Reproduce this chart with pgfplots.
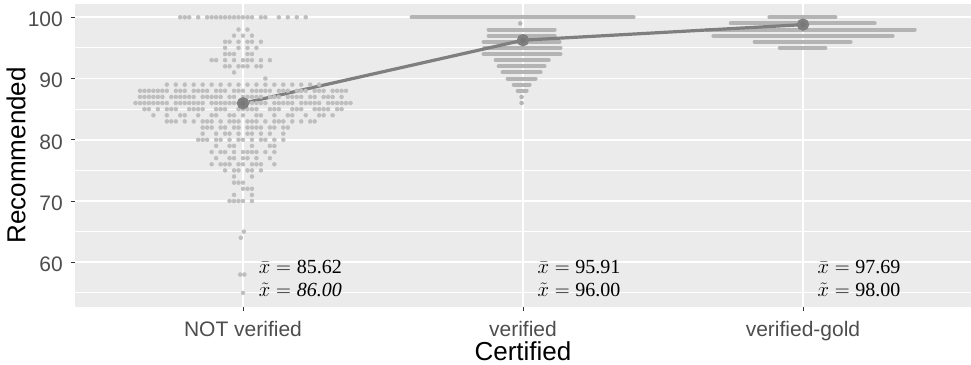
\documentclass[border=0pt]{standalone}
\usepackage{pgfplots}
\pgfplotsset{compat=1.18}
\usepackage{fontspec}
\setmainfont{Liberation Sans}
\newfontfamily\serif{Liberation Serif}
\definecolor{bgc}{HTML}{EBEBEB}
\definecolor{dotc}{HTML}{BEBEBE}
\definecolor{barc}{HTML}{B4B4B4}
\definecolor{linec}{HTML}{7F7F7F}
\definecolor{meanc}{HTML}{777777}
\definecolor{labc}{HTML}{4D4D4D}
\definecolor{tickc}{HTML}{333333}
\begin{document}
\begin{tikzpicture}
\begin{axis}[
  scale only axis, width=896bp, height=302.5bp,
  xmin=0.4, xmax=3.6, ymin=52.78, ymax=102.17,
  axis background/.style={fill=bgc},
  axis line style={draw=none},
  tick pos=left,
  xtick={1,2,3}, xticklabels={NOT verified,verified,verified-gold},
  ytick={60,70,80,90,100}, yticklabels={60,70,80,90,100},
  minor ytick={55,65,75,85,95},
  xmajorgrids, ymajorgrids, yminorgrids,
  major grid style={white, line width=1.8bp},
  minor grid style={white, line width=0.9bp},
  tick align=outside, major tick length=4bp, minor tick length=0bp,
  tick style={color=tickc, line width=1bp},
  ticklabel style={font=\fontsize{21bp}{25bp}\selectfont, text=labc, inner sep=0pt},
  xticklabel style={anchor=base, yshift=-26bp},
  yticklabel style={anchor=east, xshift=-8bp, yshift=-2bp},
  xlabel={Certified}, ylabel={Recommended},
  label style={font=\fontsize{26bp}{30bp}\selectfont, text=black},
  xlabel style={at={(axis description cs:0.5,-0.1769)}, anchor=base},
  ylabel style={at={(axis description cs:-0.0658,0.5)}, anchor=center},
  clip=false,
]
% NOT verified dots
\addplot[only marks, mark=*, mark size=2bp, color=dotc] coordinates {
(0.776,100)(0.792,100)(0.808,100)(0.840,100)(0.872,100)(0.888,100)(0.904,100)(0.920,100)(0.936,100)(0.952,100)(0.968,100)(0.984,100)(1.000,100)(1.016,100)(1.032,100)(1.064,100)(1.080,100)(1.128,100)(1.160,100)(1.192,100)(1.224,100)
(0.984,98)(1.016,98)
(0.968,97)(1.000,97)(1.032,97)
(0.936,96)(0.952,96)(0.984,96)(1.016,96)(1.032,96)(1.064,96)
(0.936,95)(0.984,95)(1.016,95)(1.048,95)
(0.936,94)(0.952,94)(0.968,94)(1.016,94)(1.032,94)
(0.888,93)(0.904,93)(0.936,93)(0.968,93)(1.000,93)(1.016,93)(1.032,93)(1.064,93)(1.096,93)
(0.936,92)(0.952,92)(0.984,92)(1.000,92)(1.016,92)(1.048,92)(1.064,92)
(0.968,91)
(1.080,90)
(0.728,89)(0.760,89)(0.792,89)(0.824,89)(0.856,89)(0.888,89)(0.920,89)(0.952,89)(0.984,89)(1.016,89)(1.048,89)(1.080,89)(1.112,89)(1.144,89)(1.176,89)(1.208,89)(1.240,89)(1.272,89)
(0.632,88)(0.648,88)(0.664,88)(0.680,88)(0.696,88)(0.712,88)(0.728,88)(0.760,88)(0.776,88)(0.792,88)(0.824,88)(0.840,88)(0.856,88)(0.872,88)(0.904,88)(0.920,88)(0.936,88)(0.968,88)(0.984,88)(1.000,88)(1.032,88)(1.048,88)(1.064,88)(1.080,88)(1.096,88)(1.128,88)(1.144,88)(1.160,88)(1.192,88)(1.208,88)(1.224,88)(1.256,88)(1.272,88)(1.288,88)(1.320,88)(1.336,88)(1.352,88)(1.368,88)
(0.632,87)(0.648,87)(0.664,87)(0.680,87)(0.696,87)(0.712,87)(0.744,87)(0.760,87)(0.776,87)(0.792,87)(0.808,87)(0.824,87)(0.856,87)(0.872,87)(0.888,87)(0.904,87)(0.920,87)(0.952,87)(0.968,87)(1.000,87)(1.016,87)(1.032,87)(1.048,87)(1.064,87)(1.096,87)(1.112,87)(1.128,87)(1.160,87)(1.176,87)(1.192,87)(1.208,87)(1.240,87)(1.256,87)(1.288,87)(1.304,87)(1.320,87)(1.352,87)
(0.616,86)(0.632,86)(0.648,86)(0.664,86)(0.680,86)(0.696,86)(0.712,86)(0.728,86)(0.760,86)(0.776,86)(0.792,86)(0.808,86)(0.824,86)(0.840,86)(0.856,86)(0.888,86)(0.904,86)(0.920,86)(0.936,86)(0.952,86)(0.968,86)(0.984,86)(1.016,86)(1.032,86)(1.048,86)(1.064,86)(1.080,86)(1.112,86)(1.128,86)(1.144,86)(1.160,86)(1.176,86)(1.208,86)(1.224,86)(1.240,86)(1.256,86)(1.272,86)(1.304,86)(1.320,86)(1.336,86)(1.352,86)(1.368,86)(1.384,86)
(0.648,85)(0.664,85)(0.696,85)(0.728,85)(0.744,85)(0.760,85)(0.808,85)(0.824,85)(0.840,85)(0.856,85)(0.904,85)(0.920,85)(0.936,85)(0.984,85)(1.000,85)(1.016,85)(1.032,85)(1.048,85)(1.096,85)(1.112,85)(1.128,85)(1.176,85)(1.192,85)(1.208,85)(1.256,85)(1.272,85)(1.288,85)(1.304,85)(1.336,85)(1.352,85)
(0.680,84)(0.728,84)(0.776,84)(0.792,84)(0.840,84)(0.888,84)(0.904,84)(0.952,84)(0.968,84)(1.000,84)(1.048,84)(1.064,84)(1.112,84)(1.160,84)(1.176,84)(1.224,84)(1.272,84)(1.288,84)(1.320,84)
(0.728,83)(0.744,83)(0.760,83)(0.792,83)(0.824,83)(0.856,83)(0.872,83)(0.888,83)(0.920,83)(0.952,83)(0.968,83)(0.984,83)(1.016,83)(1.032,83)(1.048,83)(1.080,83)(1.112,83)(1.128,83)(1.144,83)(1.176,83)(1.208,83)(1.240,83)(1.256,83)
(0.856,82)(0.872,82)(0.888,82)(0.920,82)(0.936,82)(0.968,82)(0.984,82)(1.016,82)(1.032,82)(1.048,82)(1.064,82)(1.096,82)(1.112,82)(1.144,82)(1.160,82)
(0.856,81)(0.904,81)(0.936,81)(0.952,81)(0.984,81)(1.016,81)(1.032,81)(1.064,81)(1.096,81)(1.144,81)
(0.840,80)(0.856,80)(0.872,80)(0.904,80)(0.920,80)(0.952,80)(0.984,80)(1.000,80)(1.032,80)(1.064,80)(1.080,80)(1.112,80)(1.144,80)
(0.904,79)(0.952,79)(0.968,79)(1.032,79)(1.096,79)(1.112,79)
(0.888,78)(0.920,78)(0.936,78)(0.968,78)(1.000,78)(1.016,78)(1.032,78)(1.048,78)(1.080,78)(1.112,78)
(0.904,77)(0.952,77)(0.968,77)(1.000,77)(1.016,77)(1.048,77)(1.096,77)
(0.888,76)(0.920,76)(0.936,76)(0.952,76)(0.984,76)(1.000,76)(1.032,76)(1.048,76)(1.064,76)(1.112,76)
(0.936,75)(0.968,75)(0.984,75)(1.016,75)(1.032,75)(1.064,75)
(0.968,74)(1.032,74)
(0.968,73)(0.984,73)(1.000,73)
(1.000,72)(1.016,72)(1.032,72)
(0.968,71)(1.032,71)
(0.952,70)(0.968,70)(0.984,70)(1.000,70)(1.032,70)
(1.003,65)
(0.992,64)
(0.990,58)(1.005,58)
(1.000,55)
};
% verified rows (dense dots drawn as bars)
\addplot[barc, line width=4bp, line cap=round] coordinates {(1.602,100) (2.395,100)};
\addplot[only marks, mark=*, mark size=2bp, color=barc] coordinates {(1.990,99) (1.995,87) (1.995,86)};
\addplot[barc, line width=4bp, line cap=round] coordinates {(1.877,98) (2.113,98)};
\addplot[barc, line width=4bp, line cap=round] coordinates {(1.877,97) (2.113,97)};
\addplot[barc, line width=4bp, line cap=round] coordinates {(1.859,96) (2.131,96)};
\addplot[barc, line width=4bp, line cap=round] coordinates {(1.862,95) (2.134,95)};
\addplot[barc, line width=4bp, line cap=round] coordinates {(1.859,94) (2.134,94)};
\addplot[barc, line width=4bp, line cap=round] coordinates {(1.902,93) (2.092,93)};
\addplot[barc, line width=4bp, line cap=round] coordinates {(1.913,92) (2.077,92)};
\addplot[barc, line width=4bp, line cap=round] coordinates {(1.927,91) (2.063,91)};
\addplot[barc, line width=4bp, line cap=round] coordinates {(1.945,90) (2.045,90)};
\addplot[barc, line width=4bp, line cap=round] coordinates {(1.967,89) (2.024,89)};
\addplot[barc, line width=4bp, line cap=round] coordinates {(1.981,88) (2.013,88)};
% verified-gold rows
\addplot[barc, line width=4bp, line cap=round] coordinates {(2.880,100) (3.116,100)};
\addplot[barc, line width=4bp, line cap=round] coordinates {(2.742,99) (3.256,99)};
\addplot[barc, line width=4bp, line cap=round] coordinates {(2.656,98) (3.399,98)};
\addplot[barc, line width=4bp, line cap=round] coordinates {(2.680,97) (3.320,97)};
\addplot[barc, line width=4bp, line cap=round] coordinates {(2.827,96) (3.170,96)};
\addplot[barc, line width=4bp, line cap=round] coordinates {(2.917,95) (3.080,95)};
% mean line
\addplot[linec, line width=3.2bp, mark=*, mark size=4.5bp, mark options={draw=none, fill=meanc}] coordinates {(1,85.96) (2,96.26) (3,98.8)};
% annotations
\begin{scope}[every node/.style={anchor=base, inner sep=0pt, font=\fontsize{20bp}{22bp}\selectfont}]
\node at (axis cs:1.205,58.2) {$\bar{x} = \mbox{\serif 85.62}$};
\node at (axis cs:1.205,54.4) {$\tilde{x} = \mbox{\serif\itshape 86.00}$};
\node at (axis cs:2.2,58.2) {$\bar{x} = \mbox{\serif 95.91}$};
\node at (axis cs:2.2,54.4) {$\tilde{x} = \mbox{\serif 96.00}$};
\node at (axis cs:3.2,58.2) {$\bar{x} = \mbox{\serif 97.69}$};
\node at (axis cs:3.2,54.4) {$\tilde{x} = \mbox{\serif 98.00}$};
\end{scope}
\end{axis}
\pgfresetboundingbox
\path ([xshift=-75bp,yshift=-58.5bp]current axis.south west) rectangle ([yshift=4bp]current axis.north east);
\end{tikzpicture}
\end{document}
